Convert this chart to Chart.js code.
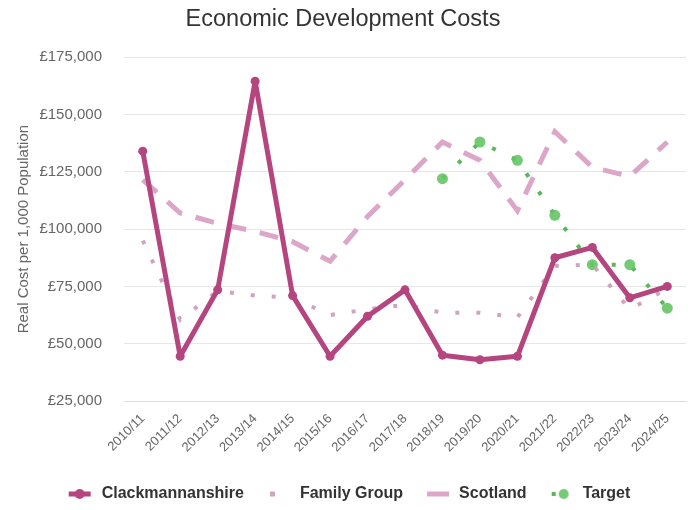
<!DOCTYPE html>
<html><head><meta charset="utf-8">
<script src="https://cdn.jsdelivr.net/npm/chart.js@4"></script>
<style>html,body{margin:0;padding:0;background:#fff}</style>
</head><body>
<canvas id="c" width="694" height="510"></canvas>
<script>
const years = ['2010/11','2011/12','2012/13','2013/14','2014/15','2015/16','2016/17','2017/18','2018/19','2019/20','2020/21','2021/22','2022/23','2023/24','2024/25'];
const clackmannanshire = [134000, 44500, 73500, 164500, 71000, 44500, 62000, 73500, 45000, 43000, 44500, 87500, 92000, 70000, 75000];
const familyGroup = [95000, 60500, 73000, 71000, 70000, 62500, 65000, 67000, 63500, 63500, 61500, 84000, 84500, 65000, 74000];
const scotland = [121500, 107000, 102500, 99000, 94500, 86000, 105500, 121500, 138000, 130000, 108000, 142500, 127000, 123000, 138000];
const target = [null, null, null, null, null, null, null, null, 122000, 138000, 130000, 106000, 84500, 84500, 65500];
const yTicks = { min: 25000, max: 175000, step: 25000 };

const C_CLACK = '#b5457f', C_FAM = '#d0a4be', C_SCOT = '#dba6c7', C_TGT = '#5cb65c', C_TGT_PT = 'rgba(102,196,102,0.9)';

Chart.defaults.font.family = "'Liberation Sans', Arial, sans-serif";

function icon(draw) {
  const c = document.createElement('canvas');
  c.width = 38; c.height = 16;
  const g = c.getContext('2d');
  draw(g);
  return c;
}
const icons = [
  icon(g => { g.fillStyle = C_CLACK; g.fillRect(13, 5.5, 22, 5); g.beginPath(); g.arc(24, 8, 5, 0, Math.PI*2); g.fill(); }),
  icon(g => { g.fillStyle = C_FAM; g.fillRect(16, 5.5, 5, 5); }),
  icon(g => { g.fillStyle = C_SCOT; g.fillRect(14, 5.5, 22, 5); }),
  icon(g => { g.fillStyle = C_TGT; g.fillRect(15, 6, 4, 4); g.fillStyle = C_TGT_PT; g.beginPath(); g.arc(27, 8, 5, 0, Math.PI*2); g.fill(); })
];

new Chart(document.getElementById('c'), {
  type: 'line',
  data: {
    labels: years,
    datasets: [
      { label: 'Clackmannanshire', data: clackmannanshire, borderColor: C_CLACK, backgroundColor: C_CLACK, borderWidth: 5, borderJoinStyle: 'round', borderCapStyle: 'round', pointRadius: 4.5, pointBackgroundColor: C_CLACK, pointBorderWidth: 0, tension: 0 },
      { label: 'Family Group', data: familyGroup, borderColor: C_FAM, borderWidth: 4, borderDash: [4, 17], pointRadius: 0, tension: 0 },
      { label: 'Scotland', data: scotland, borderColor: C_SCOT, borderWidth: 5, borderDash: [19, 14], pointRadius: 0, tension: 0 },
      { label: 'Target', data: target, borderColor: C_TGT, borderWidth: 4, borderDash: [4, 18], pointRadius: 5.5, pointBackgroundColor: C_TGT_PT, pointBorderWidth: 0, tension: 0 }
    ]
  },
  options: {
    responsive: false,
    animation: false,
    devicePixelRatio: 1,
    layout: { padding: { left: 0, right: 8, top: 0, bottom: -2 } },
    plugins: {
      title: { display: true, text: 'Economic Development Costs', color: '#333', font: { size: 23.5, weight: 'normal' }, padding: { top: 5, bottom: 24 } },
      legend: {
        position: 'bottom',
        labels: {
          usePointStyle: true, pointStyleWidth: 38, padding: 10, color: '#333',
          font: { size: 16, weight: 'bold' },
          generateLabels: chart => chart.data.datasets.map((d, i) => ({
            text: d.label, pointStyle: icons[i], datasetIndex: i, hidden: false,
            fillStyle: 'rgba(0,0,0,0)', strokeStyle: 'rgba(0,0,0,0)', lineWidth: 0, fontColor: '#333'
          }))
        }
      },
      tooltip: { enabled: false }
    },
    scales: {
      x: {
        offset: true,
        grid: { display: false, drawTicks: false },
        border: { display: true, color: '#dcdcdc' },
        ticks: { color: '#666', font: { size: 13 }, minRotation: 45, maxRotation: 45, padding: 10, autoSkip: false },
        afterFit(s) { s.height = 75; }
      },
      y: {
        min: yTicks.min, max: yTicks.max,
        ticks: { stepSize: yTicks.step, color: '#666', font: { size: 15 }, padding: 22, callback: v => '£' + Number(v).toLocaleString('en-GB') },
        grid: { color: '#e6e6e6', drawTicks: false },
        border: { display: false },
        title: { display: true, text: 'Real Cost per 1,000 Population', color: '#666', font: { size: 15 }, padding: { top: 15, bottom: 0 } },
        afterFit(s) { s.width = 124; }
      }
    }
  }
});
</script>
</body></html>
